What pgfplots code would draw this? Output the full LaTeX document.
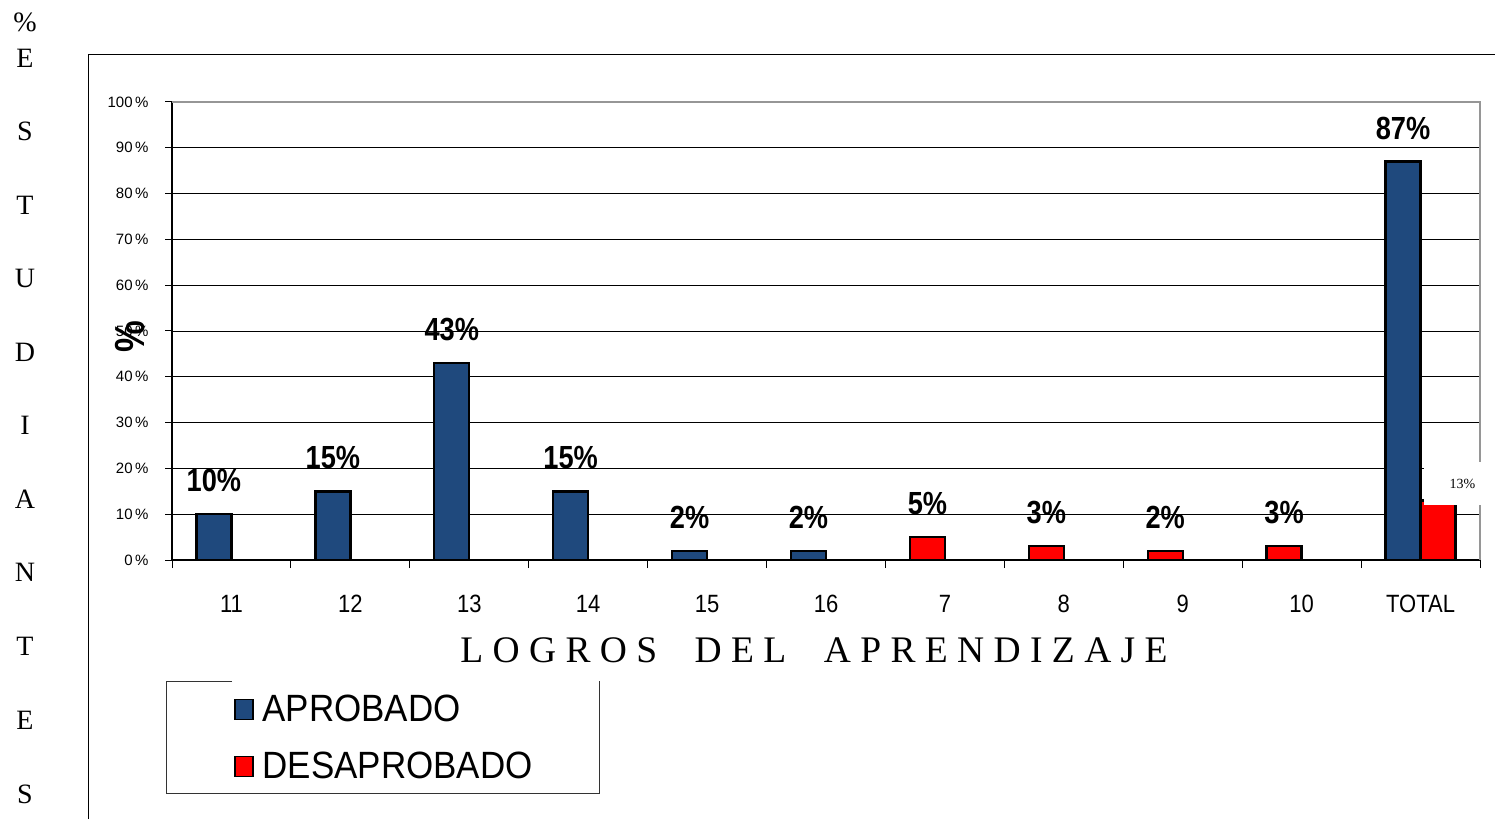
\documentclass[border=0pt]{standalone}
\usepackage{pgfplots}
\usepackage{pgfplotstable}
\pgfplotsset{compat=1.18}
\usepackage{fontspec}
\setmainfont{Liberation Serif}
\newfontfamily\arial{Liberation Sans}
\newfontfamily\arialn[FakeStretch=0.88]{Liberation Sans}
\newfontfamily\arialln[FakeStretch=0.92]{Liberation Sans}
\newfontfamily\arialbn[FakeStretch=0.85]{Liberation Sans}
\definecolor{barblue}{RGB}{31,73,125}
\definecolor{barred}{RGB}{255,0,0}
\definecolor{framegray}{RGB}{150,150,150}

\pgfplotstableread{
x y
0 10
1 15
2 43
3 15
4 2
5 2
10 87
}\aprob
\pgfplotstableread{
x y
6 5
7 3
8 2
9 3
}\desleft
\pgfplotstableread{
x y
10 13
}\destotal

\begin{document}
\begin{tikzpicture}
\useasboundingbox (0pt,0pt) rectangle (1495pt,819pt);
% outer frame
\draw[line width=1pt] (88pt,0pt) -- (88pt,764pt) -- (1495pt,764pt);
% vertical title letters
\foreach \t/\yy in {\%/797,E/761,S/688,T/614,U/541,D/467,I/394,A/320,N/247,T/173,E/99,S/25}{
  \node[font=\fontsize{28}{28}\selectfont, anchor=center] at (25pt,\yy pt) {\t};
}
\begin{axis}[
  at={(172pt,259pt)}, anchor=south west,
  width=1308pt, height=458pt, scale only axis,
  xmin=-0.5, xmax=10.5, ymin=0, ymax=100,
  /pgf/number format/assume math mode=true,
  axis lines=left,
  axis line style={-, black, line width=1.4pt},
  clip=false,
  ybar, bar width=35pt,
  xtick={0,...,10},
  xticklabels={11,12,13,14,15,16,7,8,9,10,TOTAL},
  minor xtick={-0.5,0.5,...,10.5},
  major x tick style={draw=none},
  tick align=outside,
  major tick length=7pt, minor tick length=8pt,
  tick style={black, line width=1pt},
  ytick={0,10,...,100},
  yticklabel={\pgfmathprintnumber{\tick}\,\%},
  yticklabel style={font=\arial\fontsize{15}{15}\selectfont, xshift=-13pt},
  xticklabel style={font=\arialn\fontsize{25}{25}\selectfont, inner sep=0pt, yshift=-28pt},
  ymajorgrids, grid style={black, line width=0.9pt},
  xlabel={L O G R O S\hspace{1em}D E L\hspace{1em}A P R E N D I Z A J E},
  xlabel style={font=\fontsize{37.5}{37.5}\selectfont, at={(axis description cs:0.4908,-0.1965)}, anchor=center},
  ylabel={\%},
  ylabel style={font=\arialbn\bfseries\fontsize{42}{42}\selectfont, at={(axis description cs:-0.032,0.487)}, anchor=center},
  legend image code/.code={\draw[#1,/tikz/.cd,line width=1.4pt] (0pt,-10pt) rectangle (18pt,10pt);},
  legend style={draw=none, fill=none, at={(axis description cs:0.0474,-0.2948)}, anchor=north west,
    inner sep=0pt, nodes={inner sep=0pt}, column sep=9pt, row sep=29pt,
    font=\arialln\fontsize{38}{38}\selectfont, legend cell align=left},
]
\addplot[ybar, bar shift=-17.5pt, fill=barblue, draw=black, line width=2.4pt,
  nodes near coords={\pgfmathprintnumber{\pgfplotspointmeta}\%},
  every node near coord/.append style={font=\arialbn\bfseries\fontsize{32}{32}\selectfont, anchor=south, inner sep=0pt, yshift=21pt, black}]
  table[x=x,y=y] {\aprob};
\addlegendentry{APROBADO}
\addplot[ybar, bar shift=-17.5pt, fill=barred, draw=black, line width=2.4pt,
  nodes near coords={\pgfmathprintnumber{\pgfplotspointmeta}\%},
  every node near coord/.append style={font=\arialbn\bfseries\fontsize{32}{32}\selectfont, anchor=south, inner sep=0pt, yshift=21pt, black}]
  table[x=x,y=y] {\desleft};
\addlegendentry{DESAPROBADO}
\addplot[ybar, bar shift=17.5pt, fill=barred, draw=black, line width=2.4pt, forget plot]
  table[x=x,y=y] {\destotal};
\draw[framegray, line width=1.6pt] (axis cs:-0.5,100) -- (axis cs:10.5,100) -- (axis cs:10.5,0);
\node[fill=white, inner xsep=26pt, inner ysep=0pt, minimum height=43pt, font=\fontsize{14}{14}\selectfont]
  at (axis cs:10,13) [xshift=42pt, yshift=17pt] {13\%};
\end{axis}
% legend frame
\draw[line width=1pt, black!80] (232pt,138pt) -- (166pt,138pt) -- (166pt,26pt) -- (599pt,26pt) -- (599pt,138pt);
\end{tikzpicture}
\end{document}
